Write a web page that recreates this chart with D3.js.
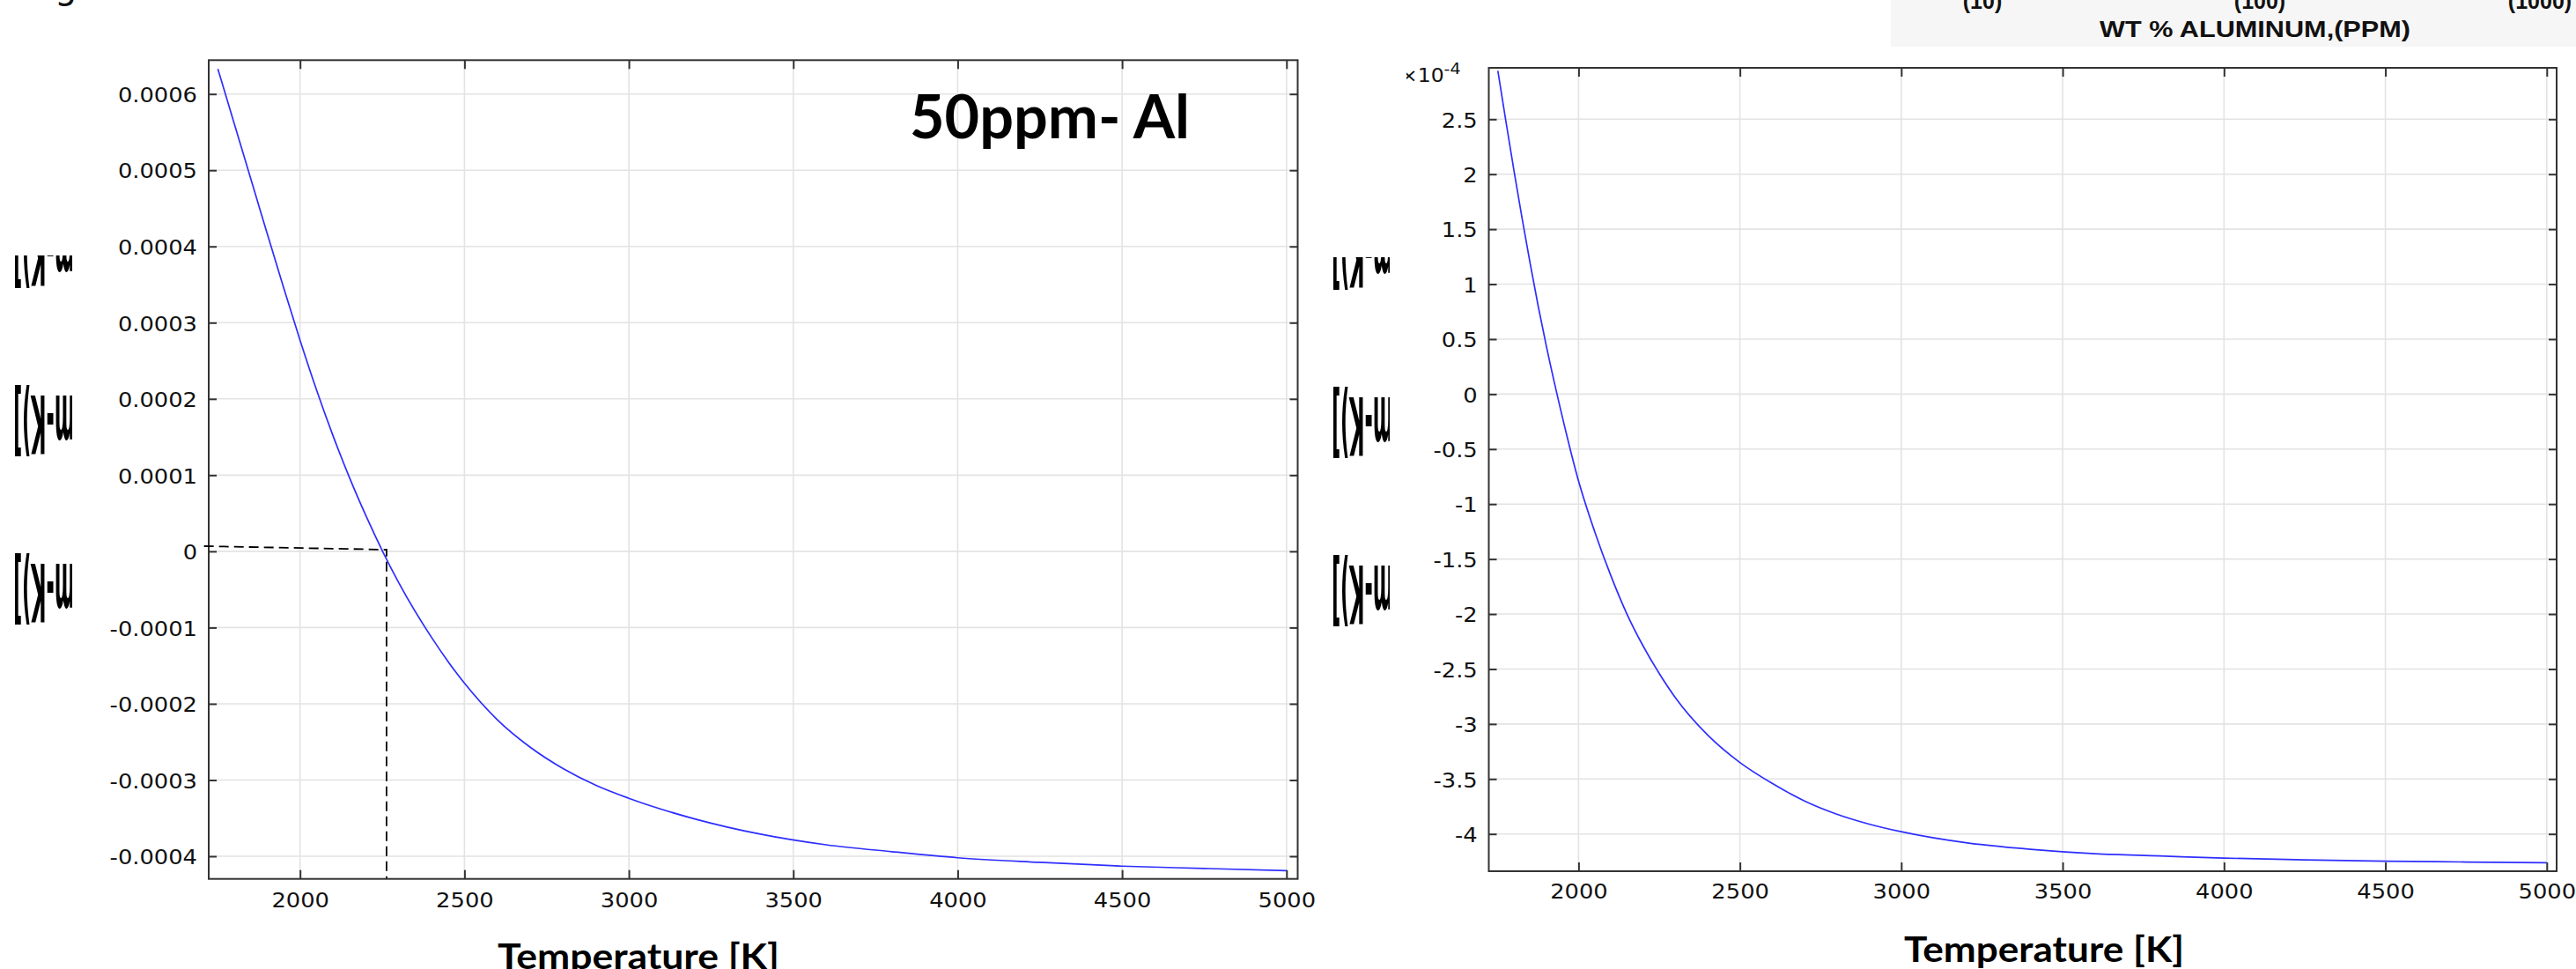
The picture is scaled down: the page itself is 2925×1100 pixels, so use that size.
<!DOCTYPE html>
<html><head><meta charset="utf-8">
<script src="https://cdn.jsdelivr.net/npm/d3@7"></script>
<style>html,body{margin:0;padding:0;background:#fff;overflow:hidden;} svg{display:block;}</style>
</head><body>
<svg id="chart" width="2925" height="1100"></svg>
<script>
// ---------------- data ----------------
const temperature = [1750,1775,1800,1825,1850,1875,1900,1950,2000,2050,2100,2150,2200,2250,2300,2400,2500,2600,2700,2800,2900,3000,3200,3400,3600,3800,4000,4250,4500,4750,5000];
// left panel (50ppm Al), raw values
const seriesLeft = [6.33e-4,5.97e-4,5.61e-4,5.25e-4,4.89e-4,4.53e-4,4.17e-4,3.46e-4,2.77e-4,2.12e-4,1.52e-4,0.97e-4,0.47e-4,0.01e-4,-0.41e-4,-1.13e-4,-1.73e-4,-2.21e-4,-2.57e-4,-2.85e-4,-3.07e-4,-3.24e-4,-3.51e-4,-3.71e-4,-3.85e-4,-3.94e-4,-4.02e-4,-4.08e-4,-4.13e-4,-4.16e-4,-4.19e-4];
// right panel, values in units of 1e-4
const seriesRight = [2.94,2.48,2.03,1.60,1.19,0.80,0.44,-0.21,-0.79,-1.25,-1.65,-2.00,-2.29,-2.54,-2.76,-3.10,-3.35,-3.54,-3.70,-3.82,-3.91,-3.98,-4.08,-4.14,-4.18,-4.20,-4.22,-4.235,-4.247,-4.255,-4.262];

const xTicks = [2000,2500,3000,3500,4000,4500,5000];
const xTickLabels = ["2000","2500","3000","3500","4000","4500","5000"];
const yTicksLeft = [-4e-4,-3e-4,-2e-4,-1e-4,0,1e-4,2e-4,3e-4,4e-4,5e-4,6e-4];
const yTickLabelsLeft = ["-0.0004","-0.0003","-0.0002","-0.0001","0","0.0001","0.0002","0.0003","0.0004","0.0005","0.0006"];
const yTicksRight = [-4,-3.5,-3,-2.5,-2,-1.5,-1,-0.5,0,0.5,1,1.5,2,2.5];
const yTickLabelsRight = ["-4","-3.5","-3","-2.5","-2","-1.5","-1","-0.5","0","0.5","1","1.5","2","2.5"];
// dashed guide (left panel): zero crossing
const guideT = [1708, 2263, 2263];
const guideV = [0.068e-4, 0.022e-4, -4.29e-4];

const panelTitle = "50ppm- Al";
const xAxisTitle = "Temperature [K]";
const exponentBase = "\u00d710";
const exponentPow = "-4";
const scanTickLabels = ["(10)","(100)","(1000)"];
const scanTitle = "WT % ALUMINUM,(PPM)";
const fragmentText = "m-K)]";

// ---------------- layout ----------------
const svg = d3.select("#chart");
const SX = 1.12; // horizontal stretch of tick text
const defs = svg.append("defs");
defs.append("filter").attr("id","soft").append("feGaussianBlur").attr("stdDeviation",0.7);

const panels = [
  {id:"L", box:{x0:237,x1:1473.5,y0:68.3,y1:997.7}, xr:[340.7,1460.8], yd:[-4e-4,6e-4], yr:[972,106.7],
   yTicks:yTicksLeft, yLabels:yTickLabelsLeft, values:seriesLeft, xPad:15.5, yPad:13},
  {id:"R", box:{x0:1690.5,x1:2903,y0:77,y1:989}, xr:[1792.4,2891.8], yd:[-4,2.5], yr:[946.7,135.3],
   yTicks:yTicksRight, yLabels:yTickLabelsRight, values:seriesRight, xPad:14.7, yPad:12.8}
];

panels.forEach(p => {
  const b = p.box;
  const x = d3.scaleLinear().domain([2000,5000]).range(p.xr);
  const y = d3.scaleLinear().domain(p.yd).range(p.yr);
  p.x = x; p.y = y;
  const g = svg.append("g");
  defs.append("clipPath").attr("id","clip"+p.id).append("rect")
    .attr("x",b.x0).attr("y",b.y0).attr("width",b.x1-b.x0).attr("height",b.y1-b.y0);

  g.append("rect").attr("x",b.x0).attr("y",b.y0).attr("width",b.x1-b.x0).attr("height",b.y1-b.y0).attr("fill","#fff");
  // grid
  g.append("g").selectAll("line").data(xTicks).join("line")
    .attr("x1",d=>x(d)).attr("x2",d=>x(d)).attr("y1",b.y0).attr("y2",b.y1)
    .attr("stroke","#e3e3e3").attr("stroke-width",1.6);
  g.append("g").selectAll("line").data(p.yTicks).join("line")
    .attr("y1",d=>y(d)).attr("y2",d=>y(d)).attr("x1",b.x0).attr("x2",b.x1)
    .attr("stroke","#e3e3e3").attr("stroke-width",1.6);

  // curve
  const pts = temperature.map((t,i)=>({T:t, v:p.values[i]}));
  g.append("path").datum(pts)
    .attr("clip-path","url(#clip"+p.id+")")
    .attr("fill","none").attr("stroke","#2e2eff").attr("stroke-width",1.7)
    .attr("d", d3.line().x(d=>x(d.T)).y(d=>y(d.v)).curve(d3.curveMonotoneX));

  // axes (inward ticks)
  const styleAxis = (sel) => {
    sel.select(".domain").remove();
    sel.selectAll(".tick line").attr("stroke","#333").attr("stroke-width",2);
    sel.selectAll("text").attr("font-family","DejaVu Sans").attr("font-size",23).attr("fill","#111");
  };
  const ax = svg.append("g").attr("transform",`translate(0,${b.y1})`)
    .call(d3.axisBottom(x).tickValues(xTicks).tickFormat((d,i)=>xTickLabels[i]).tickSize(-10).tickPadding(p.xPad));
  styleAxis(ax);
  ax.selectAll("text").attr("transform",`scale(${SX},1)`);
  const axt = svg.append("g").attr("transform",`translate(0,${b.y0})`)
    .call(d3.axisTop(x).tickValues(xTicks).tickFormat("").tickSize(-10));
  styleAxis(axt);
  const ay = svg.append("g").attr("transform",`translate(${b.x0},0)`)
    .call(d3.axisLeft(y).tickValues(p.yTicks).tickFormat((d,i)=>p.yLabels[i]).tickSize(-9).tickPadding(p.yPad));
  styleAxis(ay);
  ay.selectAll("text").attr("x",-p.yPad/SX).attr("dy","0.38em").attr("transform",`scale(${SX},1)`);
  const ayr = svg.append("g").attr("transform",`translate(${b.x1},0)`)
    .call(d3.axisRight(y).tickValues(p.yTicks).tickFormat("").tickSize(-9));
  styleAxis(ayr);

  // frame
  svg.append("rect").attr("x",b.x0).attr("y",b.y0).attr("width",b.x1-b.x0).attr("height",b.y1-b.y0)
    .attr("fill","none").attr("stroke","#333").attr("stroke-width",2);
});

// dashed guide on left panel
{
  const p = panels[0];
  const gp = guideT.map((t,i)=>[p.x(t), p.y(guideV[i])]);
  svg.append("path").attr("d", d3.line()(gp))
    .attr("fill","none").attr("stroke","#000").attr("stroke-width",1.8).attr("stroke-dasharray","11,6");
}

// panel title
svg.append("text").attr("x",1033).attr("y",157.3)
  .attr("font-family","Lato").attr("font-weight","bold").attr("font-size",68)
  .attr("textLength",318).attr("lengthAdjust","spacingAndGlyphs").attr("fill","#000").text(panelTitle);

// x axis titles
svg.append("text").attr("x",565).attr("y",1100)
  .attr("font-family","Lato").attr("font-weight","bold").attr("font-size",40)
  .attr("textLength",320).attr("lengthAdjust","spacingAndGlyphs").attr("fill","#000").text(xAxisTitle);
svg.append("text").attr("x",2162).attr("y",1091.7)
  .attr("font-family","Lato").attr("font-weight","bold").attr("font-size",40)
  .attr("textLength",318).attr("lengthAdjust","spacingAndGlyphs").attr("fill","#000").text(xAxisTitle);

// exponent label (right panel)
defs.append("clipPath").attr("id","clipExp").append("rect").attr("x",1597).attr("y",40).attr("width",120).attr("height",70);
{
  const t = svg.append("g").attr("clip-path","url(#clipExp)").append("text")
    .attr("transform","translate(1590,93) scale(1.12,1)")
    .attr("font-family","DejaVu Sans").attr("font-size",21).attr("fill","#111");
  t.append("tspan").text(exponentBase);
  t.append("tspan").attr("font-size",17).attr("dy",-9).text(exponentPow);
}

// rotated label fragments at the left of each panel
function fragment(tx, ty, clip) {
  const id = "fr" + Math.round(tx) + "_" + Math.round(ty);
  defs.append("clipPath").attr("id",id).append("rect")
    .attr("x",clip[0]).attr("y",clip[1]).attr("width",clip[2]-clip[0]).attr("height",clip[3]-clip[1]);
  svg.append("g").attr("clip-path",`url(#${id})`).append("text")
    .attr("transform",`translate(${tx},${ty}) rotate(180)`)
    .attr("font-family","DejaVu Sans").attr("font-weight","bold").attr("font-size",91)
    .attr("textLength",70).attr("lengthAdjust","spacingAndGlyphs")
    .attr("fill","#000").attr("filter","url(#soft)").text(fragmentText);
}
[[85,258,[0,290,82,340]],[85,449,[0,420,82,540]],[85,640,[0,610,82,730]],
 [1582,260,[1500,292,1578,345]],[1582,451,[1500,420,1578,540]],[1582,642,[1500,610,1578,730]]]
 .forEach(f=>fragment(f[0],f[1],f[2]));

// cut-off letter at top-left
svg.append("text").attr("x",62).attr("y",-2).attr("font-family","DejaVu Sans").attr("font-size",40).attr("fill","#111").text("g");

// scanned figure fragment top-right
svg.append("rect").attr("x",2147).attr("y",0).attr("width",2925-2147).attr("height",53).attr("fill","#f6f6f6");
const scanX = [2251, 2566, 2884];
svg.append("g").selectAll("text").data(scanTickLabels).join("text")
  .attr("x",(d,i)=>scanX[i]).attr("y",10).attr("text-anchor","middle")
  .attr("font-family","Liberation Sans").attr("font-weight","bold").attr("font-size",25).attr("fill","#111")
  .text(d=>d);
svg.append("text").attr("x",2384).attr("y",42)
  .attr("font-family","Liberation Sans").attr("font-weight","bold").attr("font-size",25)
  .attr("textLength",353).attr("lengthAdjust","spacingAndGlyphs").attr("fill","#111").text(scanTitle);
</script>
</body></html>
